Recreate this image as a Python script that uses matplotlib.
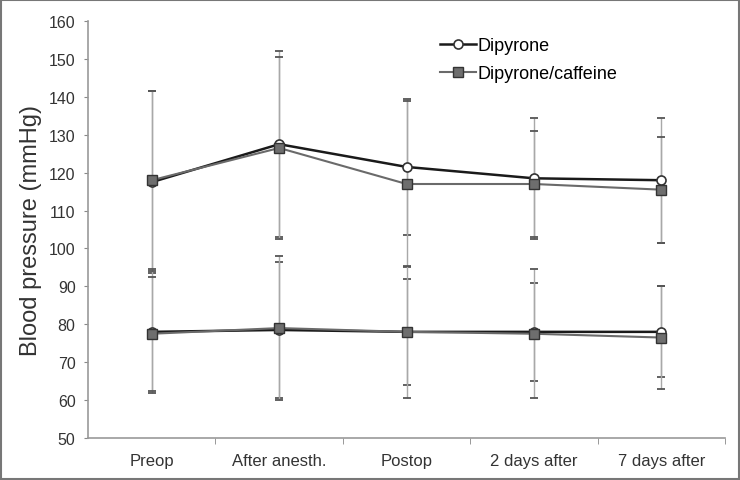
import matplotlib
matplotlib.use('Agg')
import matplotlib.pyplot as plt
from matplotlib.patches import Rectangle
import numpy as np

plt.rcParams['font.family'] = ['Liberation Sans', 'DejaVu Sans']

categories = ["Preop", "After anesth.", "Postop", "2 days after", "7 days after"]

# systolic (upper) and diastolic (lower) means with SD
dip_sys = [117.5, 127.5, 121.5, 118.5, 118.0]
dip_sys_sd = [24.0, 24.5, 18.0, 16.0, 16.5]
caf_sys = [118.0, 126.5, 117.0, 117.0, 115.5]
caf_sys_sd = [23.5, 24.0, 22.0, 14.0, 14.0]

dip_dia = [78.0, 78.5, 78.0, 78.0, 78.0]
dip_dia_sd = [16.0, 18.0, 14.0, 13.0, 12.0]
caf_dia = [77.5, 79.0, 78.0, 77.5, 76.5]
caf_dia_sd = [15.0, 19.0, 17.5, 17.0, 13.5]

x = np.arange(len(categories))

fig = plt.figure(figsize=(7.4, 4.81), dpi=100)
ax = fig.add_axes([0.119, 0.0873, 0.861, 0.867])

err_kw = dict(ecolor="#a8a8a8", elinewidth=1.0, capsize=3, capthick=1.3, zorder=1)

# error bars first, under the lines
for m, s in [(dip_sys, dip_sys_sd), (caf_sys, caf_sys_sd), (dip_dia, dip_dia_sd), (caf_dia, caf_dia_sd)]:
    eb = ax.errorbar(x, m, yerr=s, fmt="none", **err_kw)
    for cap in eb[1]:
        cap.set_markeredgecolor("#555555")

dip_style = dict(color="#1a1a1a", lw=1.8, marker="o", ms=6.5, mfc="white", mec="#333333", mew=1.2, zorder=3)
caf_style = dict(color="#6a6a6a", lw=1.5, marker="s", ms=6.5, mfc="#6e6e6e", mec="#333333", mew=1.0, zorder=4)

ax.plot(x, dip_sys, label="Dipyrone", **dip_style)
ax.plot(x, caf_sys, label="Dipyrone/caffeine", **caf_style)
ax.plot(x, dip_dia, **dip_style)
ax.plot(x, caf_dia, **caf_style)

ax.set_xlim(-0.5, 4.5)
ax.set_ylim(50, 160)
ax.set_yticks(np.arange(50, 161, 10))
ax.set_xticks(x)
ax.set_xticklabels(categories)
ax.set_xticks(np.arange(0.5, 4.6, 1), minor=True)
ax.tick_params(axis="x", which="major", length=0, pad=11, labelsize=12, labelcolor="#333333")
ax.tick_params(axis="x", which="minor", length=4, color="#888888", direction="out")
ax.tick_params(axis="y", length=3, color="#888888", labelsize=11.5, labelcolor="#333333", pad=6)

for side in ["top", "right"]:
    ax.spines[side].set_visible(False)
for side in ["left", "bottom"]:
    ax.spines[side].set_color("#999999")
    ax.spines[side].set_linewidth(1.2)

ax.set_ylabel("Blood pressure (mmHg)", fontsize=17, color="#333333", labelpad=5)

ax.legend(loc="upper left", bbox_to_anchor=(0.527, 1.0), frameon=False, fontsize=13,
          handlelength=2.0, handletextpad=0.1, labelspacing=0.62, borderaxespad=0.5)

fig.patches.append(Rectangle((0.002, 0.002), 0.996, 0.996, transform=fig.transFigure,
                             fill=False, edgecolor="#777777", lw=1.5))

fig.savefig("out.png", dpi=100)
